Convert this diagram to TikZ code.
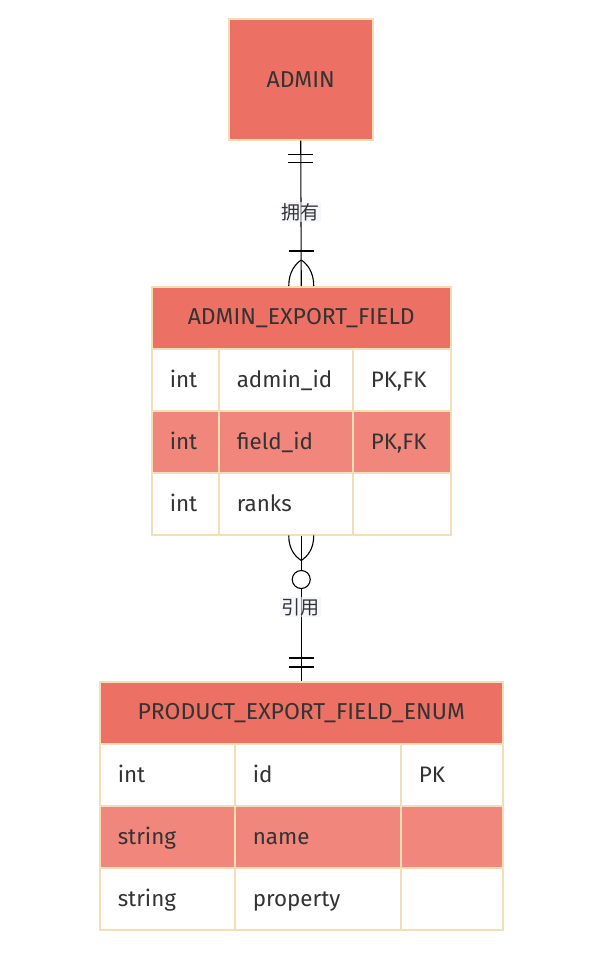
\documentclass[tikz,border=0pt]{standalone}
\usepackage{fontspec}
\setmainfont{Fira Sans}
\newfontfamily\cjk{Noto Sans CJK SC}
\usetikzlibrary{calc}
\definecolor{hdr}{HTML}{EC7063}
\definecolor{hl}{HTML}{F0867C}
\definecolor{bord}{HTML}{F3DEB6}
\definecolor{txt}{HTML}{333333}
\definecolor{lblbg}{HTML}{EEF1FA}
\tikzset{
  x=1pt,y=-1pt,
  ent/.style={draw=bord,line width=1.5pt,fill=hdr,text=txt,inner sep=0pt,anchor=north west,font=\fontsize{23}{26}\selectfont},
  cell/.style={draw=bord,line width=1.5pt,text=txt,inner xsep=18pt,inner ysep=0pt,minimum height=62pt,anchor=north west,align=left,text height=18pt,text depth=3pt,font=\fontsize{22.4}{25}\selectfont},
  rel/.style={line width=1.1pt,black},
  lbl/.style={fill=lblbg,fill opacity=0.6,text opacity=1,text=txt,inner sep=1.5pt,font=\cjk\fontsize{19}{21}\selectfont}
}
\begin{document}
\begin{tikzpicture}
\useasboundingbox (0,0) rectangle (594,956);
% ADMIN
\node[ent,minimum width=144pt,minimum height=121pt] (admin) at (228,18) {ADMIN};
% ADMIN_EXPORT_FIELD
\node[ent,minimum width=299pt,minimum height=62pt] (aef) at (151,286) {ADMIN\_EXPORT\_FIELD};
\node[cell,fill=white,text width=31pt] (a11) at (151,348) {int};
\node[cell,fill=white,text width=98pt] (a12) at (218,348) {admin\_id};
\node[cell,fill=white,text width=62pt] (a13) at (352,348) {PK,FK};
\node[cell,fill=hl,text width=31pt] (a21) at (151,410) {int};
\node[cell,fill=hl,text width=98pt] (a22) at (218,410) {field\_id};
\node[cell,fill=hl,text width=62pt] (a23) at (352,410) {PK,FK};
\node[cell,fill=white,text width=31pt] (a31) at (151,472) {int};
\node[cell,fill=white,text width=98pt] (a32) at (218,472) {ranks};
\node[cell,fill=white,text width=62pt] (a33) at (352,472) {};
\coordinate (aefb) at (aef.south |- a32.south);
% PRODUCT_EXPORT_FIELD_ENUM
\node[ent,minimum width=403pt,minimum height=62pt] (pef) at (99,681) {PRODUCT\_EXPORT\_FIELD\_ENUM};
\node[cell,fill=white,text width=99pt] (p11) at (99,743) {int};
\node[cell,fill=white,text width=130pt] (p12) at (234,743) {id};
\node[cell,fill=white,text width=66pt] (p13) at (400,743) {PK};
\node[cell,fill=hl,text width=99pt] (p21) at (99,805) {string};
\node[cell,fill=hl,text width=130pt] (p22) at (234,805) {name};
\node[cell,fill=hl,text width=66pt] (p23) at (400,805) {};
\node[cell,fill=white,text width=99pt] (p31) at (99,867) {string};
\node[cell,fill=white,text width=130pt] (p32) at (234,867) {property};
\node[cell,fill=white,text width=66pt] (p33) at (400,867) {};
% relation 1: ADMIN ||--|{ ADMIN_EXPORT_FIELD
\draw[rel] (admin.south) -- (aef.north);
\draw[rel] ($(admin.south)+(-12.5,14)$) -- ++(25,0);
\draw[rel] ($(admin.south)+(-12.5,22)$) -- ++(25,0);
\draw[rel] ($(aef.north)+(-12.5,-35)$) -- ++(25,0);
\draw[rel] ($(aef.north)+(-12.5,0)$) .. controls ($(aef.north)+(-12.5,-14)$) and ($(aef.north)+(-6,-22)$) .. ($(aef.north)+(0,-26)$);
\draw[rel] ($(aef.north)+(12.5,0)$) .. controls ($(aef.north)+(12.5,-14)$) and ($(aef.north)+(6,-22)$) .. ($(aef.north)+(0,-26)$);
\node[lbl] (l1) at (300,212) {拥有};
% relation 2: ADMIN_EXPORT_FIELD }o--|| PRODUCT_EXPORT_FIELD_ENUM
\draw[rel] (aefb) -- (pef.north);
\draw[rel] ($(aefb)+(-12.5,0)$) .. controls ($(aefb)+(-12.5,14)$) and ($(aefb)+(-6,21)$) .. ($(aefb)+(0,25)$);
\draw[rel] ($(aefb)+(12.5,0)$) .. controls ($(aefb)+(12.5,14)$) and ($(aefb)+(6,21)$) .. ($(aefb)+(0,25)$);
\coordinate (c2) at ($(aefb)+(0,44)$);
\draw[rel,fill=white] (c2) circle[radius=9pt];
\draw[rel] ($(pef.north)+(-12.5,-23)$) -- ++(25,0);
\draw[rel] ($(pef.north)+(-12.5,-14)$) -- ++(25,0);
\node[lbl] (l2) at (300,607) {引用};
\end{tikzpicture}
\end{document}
